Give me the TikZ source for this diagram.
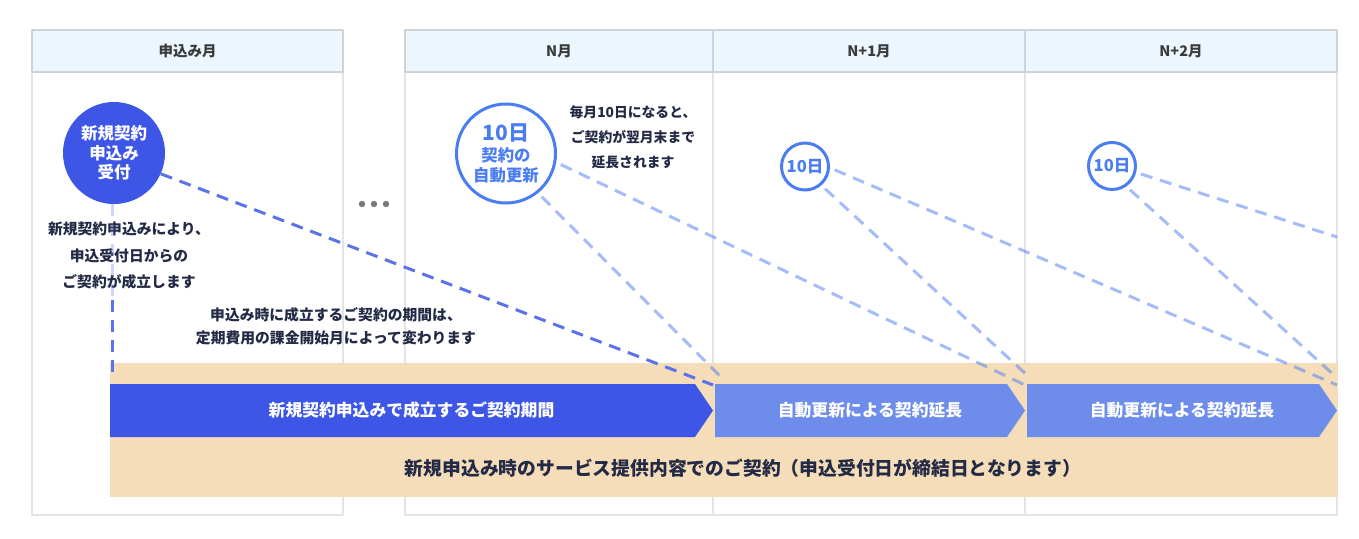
\documentclass[tikz,border=0pt]{standalone}
\usepackage{fontspec}
\setmainfont{Noto Sans CJK JP}
\usetikzlibrary{positioning}

\definecolor{headfill}{HTML}{EBF6FE}
\definecolor{headline}{HTML}{CFD3D6}
\definecolor{colline}{HTML}{E4E4E4}
\definecolor{headtext}{HTML}{3A3A3A}
\definecolor{notetext}{HTML}{232A45}
\definecolor{applyblue}{HTML}{3D56E6}
\definecolor{applyline}{HTML}{5B73E8}
\definecolor{renewblue}{HTML}{4A7CF2}
\definecolor{extendblue}{HTML}{6E8DEA}
\definecolor{basebeige}{HTML}{F5DDBA}
\definecolor{dotgray}{HTML}{787878}

\begin{document}
\begin{tikzpicture}[x=1pt, y=-1pt, line join=round,
    colframe/.style={draw=colline, line width=1.5pt},
    monthhead/.style={draw=headline, fill=headfill, line width=1.2pt,
        minimum width=#1, minimum height=42pt, inner sep=0pt,
        text=headtext, font=\bfseries\fontsize{14.5}{16}\selectfont},
    note/.style={align=center, text=notetext, inner sep=0pt,
        font=\bfseries\fontsize{14.8}{26.5}\selectfont},
    applydash/.style={draw=applyline, line width=3pt, dash pattern=on 12pt off 8pt},
    renewdash/.style={draw=renewblue, opacity=.5, line width=3pt,
        dash pattern=on 12pt off 8pt, shorten <=5pt},
    bartext/.style={text=white, inner sep=0pt, font=\bfseries\fontsize{16.8}{18}\selectfont},
    renewsmall/.style={circle, draw=renewblue, line width=3pt, fill=white,
        minimum size=47pt, inner sep=0pt, text=renewblue,
        font=\bfseries\fontsize{16.5}{18}\selectfont}]
    \useasboundingbox (0,0) rectangle (1359,538);

    % month columns
    \draw[colframe] (32,72) rectangle (343,515);
    \draw[colframe] (405,72) rectangle (1337,515);
    \draw[colframe] (713,72) -- (713,515);
    \draw[colframe] (1025,72) -- (1025,515);
    \node[monthhead=311pt] (m0) at (187.5,51) {申込み月};
    \node[monthhead=308pt] (m1) at (559,51) {N月};
    \node[monthhead=312pt] (m2) at (869,51) {N+1月};
    \node[monthhead=312pt] (m3) at (1181,51) {N+2月};

    \foreach \dx in {362,374,386}
        \fill[dotgray] (\dx,204) circle (3.2pt);

    % base contract
    \fill[basebeige] (110,363) rectangle (1338,497);
    \node[note, font=\bfseries\fontsize{18.8}{20}\selectfont] (base) at (743,468)
        {新規申込み時のサービス提供内容でのご契約（申込受付日が締結日となります）};

    % circles
    \node[circle, fill=applyblue, minimum size=102pt, inner sep=0pt, text=white,
        align=center, font=\bfseries\fontsize{16.5}{19.5}\selectfont]
        (apply) at (114,153) {新規契約\\申込み\\受付};
    \node[circle, draw=renewblue, line width=3pt, fill=white, minimum size=99pt,
        inner sep=0pt, text=renewblue, align=center,
        font=\bfseries\fontsize{16.4}{20}\selectfont]
        (renew0) at (506,153.5) {{\fontsize{21}{22}\selectfont 10日}\\[1pt]契約の\\自動更新};
    \node[renewsmall] (renew1) at (805,166.5) {10日};
    \node[renewsmall] (renew2) at (1112,166) {10日};

    % notes
    \node[note] (applynote) at (129,255.5)
        {新規契約申込みにより、\\申込受付日からの\\ご契約が成立します};
    \node[note, font=\bfseries\fontsize{14.8}{23}\selectfont] (termnote) at (336,326.5)
        {申込み時に成立するご契約の期間は、\\定期費用の課金開始月によって変わります};
    \node[note, font=\bfseries\fontsize{13.8}{25}\selectfont] (renewnote) at (633,137)
        {毎月10日になると、\\ご契約が翌月末まで\\延長されます};

    % dashed links
    \coordinate (vmid) at (112.5,300);
    \coordinate (vend) at (112.5,377);
    \coordinate (t0) at (713,385);
    \coordinate (s0) at (720,376);
    \coordinate (w0) at (1025,385);
    \coordinate (s1) at (1028,376);
    \coordinate (w1) at (1337,385);
    \coordinate (s2) at (1335,376);
    \coordinate (w2) at (1337,237);
    \draw[applydash, opacity=.3] (apply.south -| vmid) -- (vmid);
    \draw[applydash] (vmid) -- (vend);
    \draw[applydash] (apply.-24) -- (t0);
    \draw[renewdash] (renew0.-51) -- (s0);
    \draw[renewdash] (renew0.-10) -- (w0);
    \draw[renewdash] (renew1.-49) -- (s1);
    \draw[renewdash] (renew1.-3) -- (w1);
    \draw[renewdash] (renew2.-55) -- (s2);
    \draw[renewdash] (renew2.-15) -- (w2);

    % period bars
    \newcommand{\periodbar}[5]{
        \fill[#4] (#2,384) -- (#3-18,384) -- (#3,410.5) -- (#3-18,437) -- (#2,437) -- cycle;
        \node[bartext] (#1) at ({(#2+#3)/2},410.5) {#5};
    }
    \periodbar{bar0}{110}{713}{applyblue}{新規契約申込みで成立するご契約期間}
    \periodbar{bar1}{715}{1025}{extendblue}{自動更新による契約延長}
    \periodbar{bar2}{1027}{1337}{extendblue}{自動更新による契約延長}
\end{tikzpicture}
\end{document}
